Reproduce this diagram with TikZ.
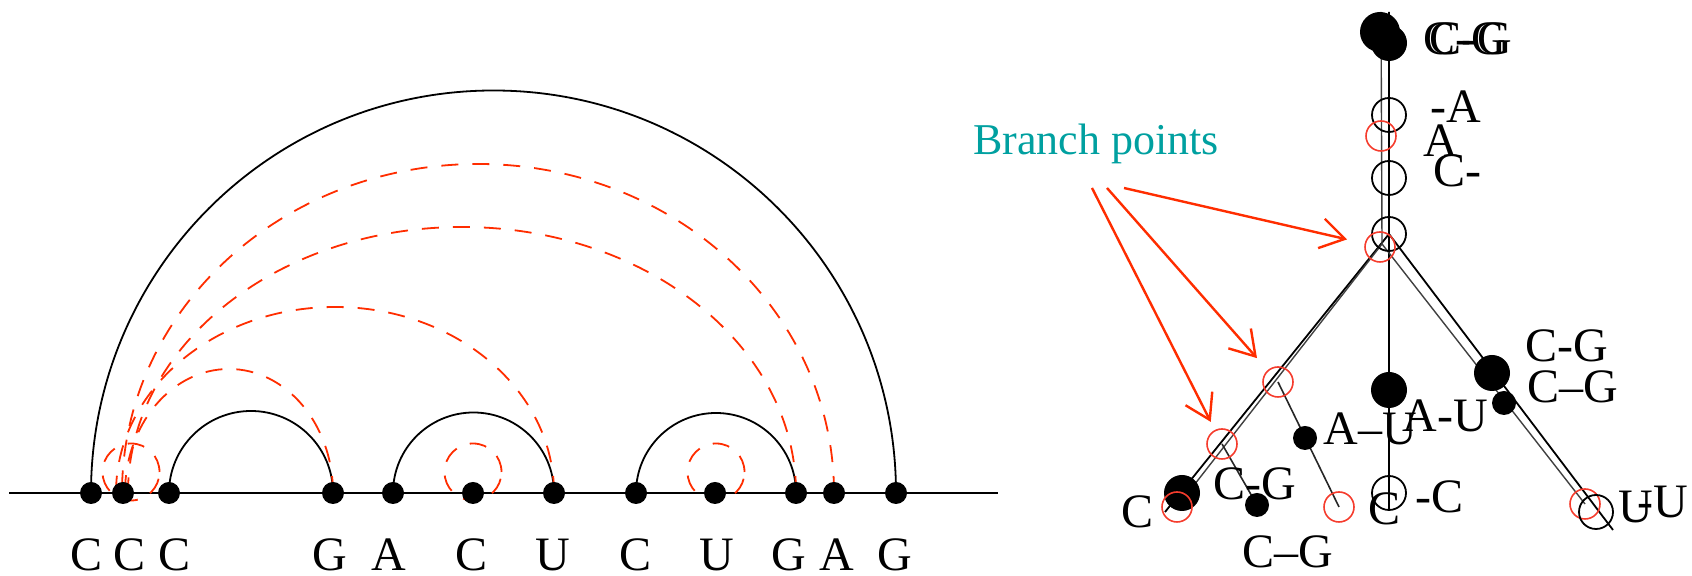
\documentclass[tikz,border=0pt]{standalone}
\usepackage{fontspec}
\setmainfont{Liberation Serif}
\usetikzlibrary{arrows.meta,backgrounds}
\definecolor{arcred}{RGB}{255,45,0}
\definecolor{ringred}{RGB}{245,60,45}
\definecolor{bpteal}{RGB}{0,160,160}

\begin{document}
\begin{tikzpicture}[x=0.5pt,y=0.5pt,>={Straight Barb[length=12pt,width=15pt]},
  dot/.style={circle,fill=black,inner sep=0pt,minimum size=11pt},
  base/.style={font=\fontsize{24}{28}\selectfont,inner sep=0pt,anchor=base},
  tag/.style={font=\fontsize{24}{28}\selectfont,inner sep=0pt,anchor=base west},
  pair/.style={line width=0.9pt},
  pseudo/.style={arcred,line width=0.9pt,dash pattern=on 8.5pt off 7pt},
  big/.style={circle,fill=black,inner sep=0pt,minimum size=18pt},
  small/.style={circle,fill=black,inner sep=0pt,minimum size=12pt},
  ring/.style={circle,draw=black,line width=0.9pt,inner sep=0pt,minimum size=17pt},
  redring/.style={circle,draw=ringred,line width=0.8pt,inner sep=0pt,minimum size=15pt},
  stem/.style={line width=0.9pt},
  ghost/.style={black!75,line width=0.7pt},
  twig/.style={black!85,line width=0.8pt},
  pointer/.style={->,arcred,line width=1.2pt}]
  \useasboundingbox (0,0) rectangle (1692,576);

  % arc diagram of the sequence
  \foreach \x/\lx/\b [count=\i] in {91/87/C,123/130/C,169/175/C,333/330/G,393/389/A,473/472/C,
      554/553/U,636/635/C,715/717/U,796/789/G,834/837/A,896/895/G}{
    \node[dot] (n\i) at (\x,83) {};
    \node[base] (b\i) at (\lx,5) {\b};
  }
  \coordinate (lft) at (9,83);
  \coordinate (rgt) at (998,83);
  \begin{scope}[on background layer]
    \draw[line width=1.1pt] (lft) -- (rgt);
    \draw[pair] (n1.center) arc[start angle=180,end angle=0,radius=402.5];
    \draw[pair] (n3.center) arc[start angle=180,end angle=0,radius=82];
    \draw[pair] (n5.center) arc[start angle=180,end angle=0,radius=80.5];
    \draw[pair] (n8.center) arc[start angle=180,end angle=0,radius=80];
    % pseudoknot pairs
    \draw[pseudo] (n11.center) arc[start angle=0,end angle=180,x radius=356,y radius=329];
    \draw[pseudo] (n10.center) arc[start angle=0,end angle=180,x radius=334,y radius=266];
    \draw[pseudo] (n7.center) arc[start angle=0,end angle=180,x radius=219,y radius=186];
    \draw[pseudo] (n4.center) arc[start angle=0,end angle=180,x radius=104,y radius=124];
    \foreach \cx in {131,473,716}
      \draw[pseudo] (\cx,104) circle[radius=28.5];
  \end{scope}

  % tree
  \coordinate (t1) at (1389,564);
  \coordinate (k1) at (1389,342);
  \coordinate (l1) at (1165,64);
  \coordinate (m1) at (1389,66);
  \coordinate (r1) at (1613,46);
  \coordinate (t2) at (1381,564);
  \coordinate (k2) at (1382,332);
  \coordinate (l2) at (1177,69);
  \coordinate (r2) at (1585,72);

  \node[big] (g1) at (1389,533) {};
  \node[small,minimum size=20pt] (g0) at (1380,544) {};
  \node[ring] (o1) at (1389,461) {};
  \node[ring] (o2) at (1389,398) {};
  \node[ring] (o3) at (1389,342) {};
  \node[redring] (q1) at (1381,440) {};
  \node[redring] (q2) at (1380,329) {};
  \node[big] (lb) at (1182,83) {};
  \node[redring] (q3) at (1177,69) {};
  \node[redring] (q4) at (1222,132) {};
  \node[small] (s1) at (1257,71) {};
  \node[redring] (q5) at (1278,194) {};
  \node[small] (s2) at (1305,138) {};
  \node[redring] (q6) at (1339,69) {};
  \node[big] (mb) at (1389,186) {};
  \node[ring] (o4) at (1389,83) {};
  \node[big] (rb) at (1492,203) {};
  \node[small] (rs) at (1504,173) {};
  \node[redring] (q7) at (1585,72) {};
  \node[ring] (o5) at (1596,64) {};

  \begin{scope}[on background layer]
    \draw[stem] (t1) -- (k1) -- (l1);
    \draw[stem] (k1) -- (m1);
    \draw[stem] (k1) -- (r1);
    \draw[ghost] (t2) -- (k2) -- (l2);
    \draw[ghost] (k2) -- (r2);
    \draw[twig] (q4.center) -- (s1.center);
    \draw[twig] (q5.center) -- (q6.center);
  \end{scope}

  \node[tag] (c0a) at (1423,521) {C-G};
  \node[tag] (c0b) at (1429,521) {C-G};
  \node[tag] (c1) at (1430,453) {-A};
  \node[tag] (c2) at (1423,419) {A};
  \node[tag] (c3) at (1433,389) {C-};
  \node[tag] (c4) at (1525,214) {C-G};
  \node[tag] (c5) at (1527,173) {C–G};
  \node[tag] (c6) at (1402,144) {A-U};
  \node[tag] (c7) at (1323,131) {A–U};
  \node[tag] (c8) at (1415,63) {-C};
  \node[tag] (c9) at (1368,51) {C};
  \node[tag] (c10) at (1618,53) {U};
  \node[tag] (c11) at (1637,58) {-U};
  \node[tag] (c12) at (1213,76) {C-G};
  \node[tag] (c13) at (1242,8) {C–G};
  \node[tag] (c14) at (1121,48) {C};

  % branch point callout
  \node[tag,font=\fontsize{22}{26}\selectfont,text=bpteal] (bp) at (973,421) {Branch points};
  \coordinate (a1) at (1124,388);
  \coordinate (a2) at (1107,388);
  \coordinate (a3) at (1092,388);
  \draw[pointer,shorten >=9pt] (a1) -- (q2);
  \draw[pointer,shorten >=8pt] (a2) -- (q5);
  \draw[pointer,shorten >=4.5pt] (a3) -- (q4);
\end{tikzpicture}
\end{document}
